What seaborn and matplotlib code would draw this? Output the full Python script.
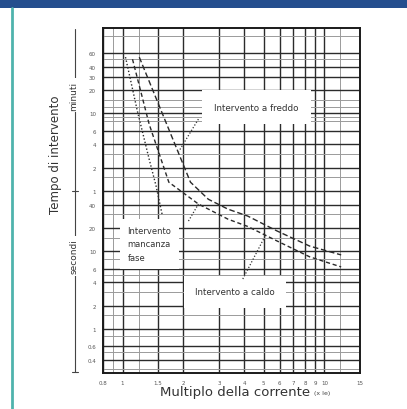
import matplotlib
matplotlib.use("Agg")
import matplotlib.pyplot as plt
from matplotlib.lines import Line2D
from matplotlib.patches import Rectangle
import seaborn as sns
import pandas as pd

# curve (multiplo della corrente, tempo in secondi)
multiplo_freddo = [1.21, 1.60, 2.17, 2.66, 3.33, 4.16, 5.83, 8.45, 12.1]
tempo_freddo = [3200, 540, 78, 47, 35, 28.6, 18.3, 11.7, 9.0]

multiplo_caldo = [1.12, 1.354, 1.695, 2.375, 3.33, 4.16, 5.83, 8.45, 12.1]
tempo_caldo = [3010, 438, 78, 40.8, 26, 21, 13.6, 8.5, 6.3]

multiplo_fase = [1.034, 1.184, 1.354, 1.465, 1.57]
tempo_fase = [3200, 645, 155, 70, 30]

x_ticks = [0.8, 1, 1.5, 2, 3, 4, 5, 6, 7, 8, 9, 10, 15]
x_labels = ["0.8", "1", "1.5", "2", "3", "4", "5", "6", "7", "8", "9", "10", "15"]
x_minor = [0.9, 1.2, 12]

y_ticks = [3600, 2400, 1800, 1200, 600, 360, 240, 120, 60,
           40, 20, 10, 6, 4, 2, 1, 0.6, 0.4]
y_labels = ["60", "40", "30", "20", "10", "6", "4", "2", "1",
            "40", "20", "10", "6", "4", "2", "1", "0.6", "0.4"]
y_minor = [6000, 3000, 900, 720, 540, 480, 180, 90, 30, 15, 8,
           5, 3, 1.5, 0.8, 0.5, 0.3]

df = pd.concat([
    pd.DataFrame({"multiplo": multiplo_freddo, "tempo": tempo_freddo, "curva": "freddo"}),
    pd.DataFrame({"multiplo": multiplo_caldo, "tempo": tempo_caldo, "curva": "caldo"}),
    pd.DataFrame({"multiplo": multiplo_fase, "tempo": tempo_fase, "curva": "fase"}),
])

sns.set_style("white")
plt.rcParams['font.family'] = ['DejaVu Sans']

fig = plt.figure(figsize=(4.07, 4.10), dpi=100)
ax = fig.add_axes([103/407, 1-374/410, (360-103)/407, (374-29)/410])
ax.set_xscale("log")
ax.set_yscale("log")

sns.lineplot(data=df, x="multiplo", y="tempo", style="curva",
             dashes={"freddo": (4, 2), "caldo": (3, 2), "fase": (1, 1.5)},
             color="#2a2a2a", linewidth=1.0, sort=False, estimator=None,
             legend=False, ax=ax, zorder=3)

ax.set_xlim(0.8, 15)
ax.set_ylim(0.27, 7600)

ax.set_xticks(x_ticks)
ax.set_xticklabels(x_labels)
ax.set_xticks(x_minor, minor=True)
ax.set_yticks(y_ticks)
ax.set_yticklabels(y_labels)
ax.set_yticks(y_minor, minor=True)
ax.yaxis.set_minor_formatter(matplotlib.ticker.NullFormatter())
ax.xaxis.set_minor_formatter(matplotlib.ticker.NullFormatter())
ax.tick_params(which="both", length=0, labelsize=4, colors="#555555", pad=5)
ax.grid(which="major", color="#2b2b2b", linewidth=1.0)
ax.grid(which="minor", color="#9a9a9a", linewidth=0.7)
ax.set_axisbelow(True)
for s in ax.spines.values():
    s.set_color("#1a1a1a")
    s.set_linewidth(1.4)
ax.set_xlabel("")
ax.set_ylabel("")

ax.text(4.6, 726, "Intervento a freddo", fontsize=6.3, color="#333333",
        ha="center", va="center", zorder=4,
        bbox=dict(boxstyle="square,pad=1.4", facecolor="white", edgecolor="none"))
ax.text(1.057, 12.5, "Intervento\nmancanza\nfase", fontsize=6, color="#333333",
        ha="left", va="center", linespacing=1.6, zorder=4,
        bbox=dict(boxstyle="square,pad=0.9", facecolor="white", edgecolor="none"))
ax.text(3.6, 3.0, "Intervento a caldo", fontsize=6.3, color="#333333",
        ha="center", va="center", zorder=4,
        bbox=dict(boxstyle="square,pad=1.3", facecolor="white", edgecolor="none"))

# linee di richiamo
ax.plot([2.375, 1.90], [508, 195], ls=(0, (1, 1.5)), color="#333333", lw=0.9, zorder=5)
ax.plot([2.12, 2.375], [24.6, 40.8], ls=(0, (1, 1.5)), color="#333333", lw=0.9, zorder=5)
ax.plot([3.94, 5.1], [4.4, 16], ls=(0, (1, 1.5)), color="#333333", lw=0.9, zorder=5)

# assi e unità
fig.text(235/407, 1-393/410, "Multiplo della corrente", fontsize=9.5,
         color="#333333", ha="center", va="center")
fig.text(322/407, 1-394/410, "(x Ie)", fontsize=4.5, color="#444444",
         ha="center", va="center")
fig.text(55/407, 1-155/410, "Tempo di intervento", fontsize=8.5, rotation=90,
         color="#333333", ha="center", va="center")

fig.lines.append(Line2D([75/407, 75/407], [1-30/410, 1-373/410],
                        transform=fig.transFigure, color="#444444", lw=0.8))
for yy in (192, 373):
    fig.lines.append(Line2D([72/407, 78/407], [1-yy/410, 1-yy/410],
                            transform=fig.transFigure, color="#444444", lw=0.8))
wbox = dict(boxstyle="square,pad=0.3", facecolor="white", edgecolor="none")
fig.text(74/407, 1-96/410, "minuti", fontsize=6.5, rotation=90, color="#333333",
         ha="center", va="center", bbox=wbox)
fig.text(74/407, 1-257/410, "secondi", fontsize=6.5, rotation=90, color="#333333",
         ha="center", va="center", bbox=wbox)

# cornice della pagina
fig.patches.append(Rectangle((0, 1-9/410), 1, 9/410, transform=fig.transFigure,
                             facecolor="#254e8e", edgecolor="none"))
fig.lines.append(Line2D([12/407, 12/407], [0, 1-9/410], transform=fig.transFigure,
                        color="#4fb3ad", lw=2))

fig.savefig("out.png", dpi=100)
